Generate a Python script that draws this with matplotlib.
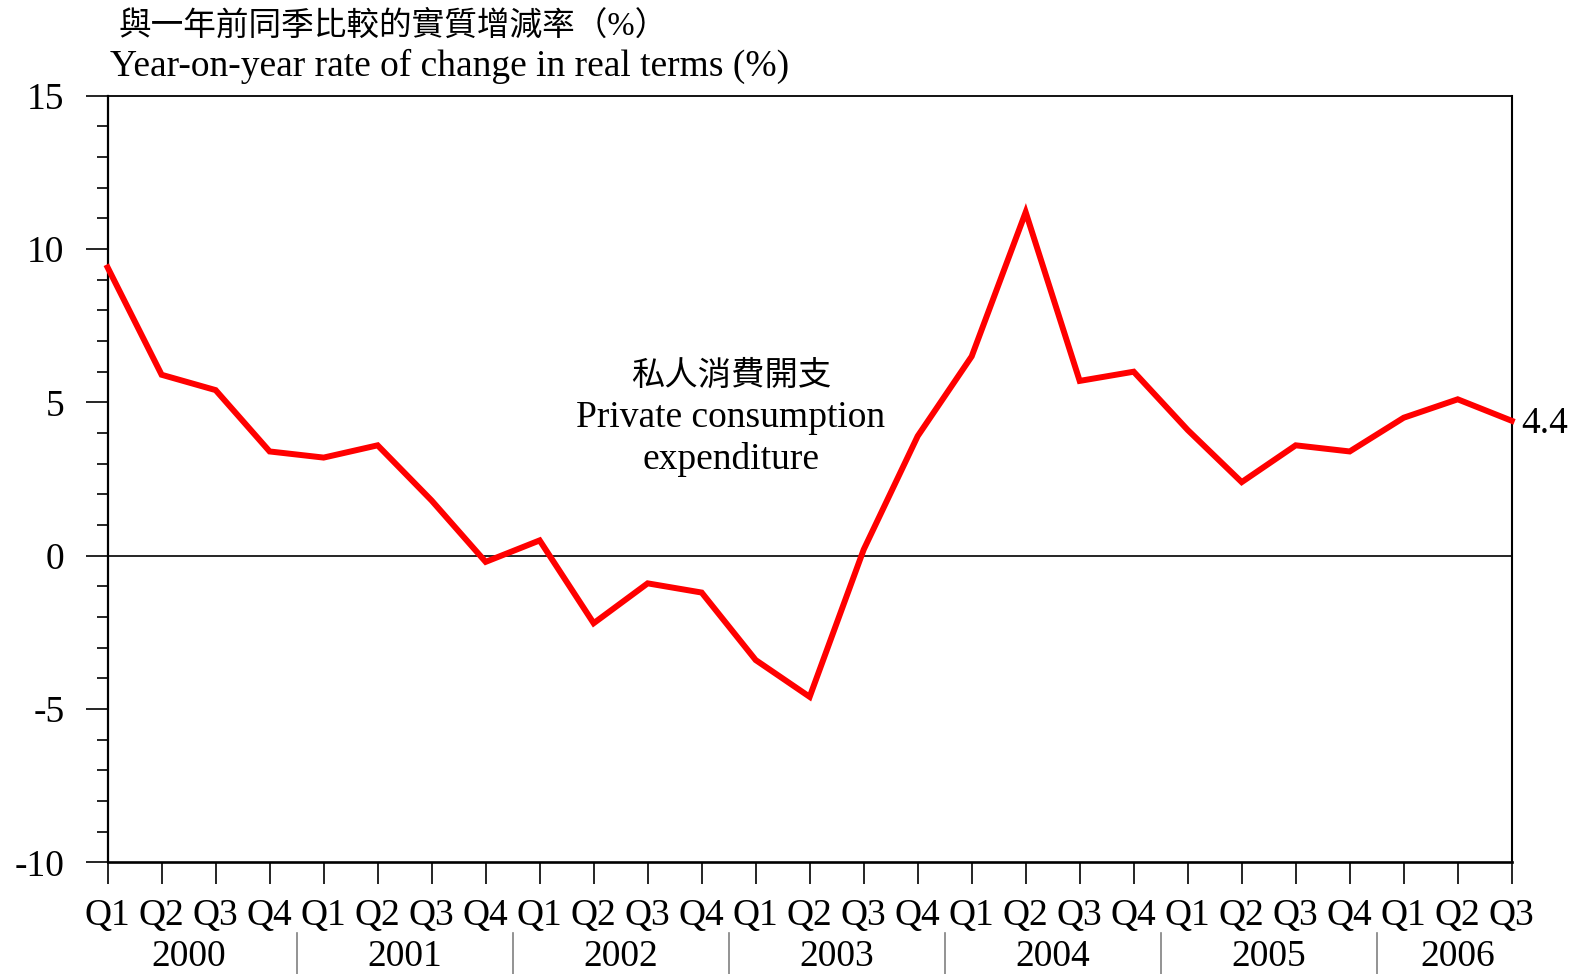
import matplotlib
matplotlib.use('Agg')
import matplotlib.pyplot as plt
from matplotlib.ticker import MultipleLocator

plt.rcParams['font.family'] = ['Liberation Serif', 'Noto Sans CJK TC']

# 私人消費開支 按年實質增減率 (%)
quarters = ['Q1', 'Q2', 'Q3', 'Q4'] * 6 + ['Q1', 'Q2', 'Q3']
years = ['2000', '2001', '2002', '2003', '2004', '2005', '2006']
growth = [9.4, 5.9, 5.4, 3.4,
          3.2, 3.6, 1.8, -0.2,
          0.5, -2.2, -0.9, -1.2,
          -3.4, -4.6, 0.2, 3.9,
          6.5, 11.2, 5.7, 6.0,
          4.1, 2.4, 3.6, 3.4,
          4.5, 5.1, 4.4]

x = list(range(len(growth)))

fig = plt.figure(figsize=(15.78, 9.74), dpi=100)
ax = fig.add_axes([0.0682, 0.1145, 0.8898, 0.7873])

ax.plot(x, growth, color='#ff0000', linewidth=4.3, solid_joinstyle='miter',
        clip_on=False, zorder=3)
ax.axhline(0, color='black', linewidth=1.2, zorder=2)

ax.set_xlim(0, len(growth) - 1)
ax.set_ylim(-10, 15)

# y 軸
ax.yaxis.set_minor_locator(MultipleLocator(1))
ax.set_yticks([-10, -5, 0, 5, 10, 15])
ax.set_yticklabels(['-10', '-5', '0', '5', '10', '15'])
ax.tick_params(axis='y', which='major', direction='out', length=16, width=1.2,
               pad=15, labelsize=27)
ax.tick_params(axis='y', which='minor', direction='out', length=8, width=1.2)

# x 軸
ax.set_xticks(x)
ax.set_xticklabels(quarters)
ax.tick_params(axis='x', which='major', direction='out', length=16, width=1.2,
               pad=10, labelsize=27)

for side, lw in [('left', 1.6), ('bottom', 1.9), ('top', 1.3), ('right', 1.5)]:
    ax.spines[side].set_linewidth(lw)

# 年份及分隔線
trans = ax.get_xaxis_transform()
start = 0
for yr in years:
    n = 3 if yr == '2006' else 4
    centre = start + (n - 1) / 2
    ax.text(centre, -0.123, yr, transform=trans, ha='center', va='center',
            fontsize=27)
    if yr != '2006':
        sep = start + n - 0.5
        ax.plot([sep, sep], [-0.092, -0.15], transform=trans, color='#808080',
                linewidth=1.2, clip_on=False)
    start += n

# 標註
ax.text(11.54, 5.85, '私人消費開支', ha='center', va='center', fontsize=24)
ax.text(11.54, 4.5, 'Private consumption', ha='center', va='center', fontsize=27)
ax.text(11.54, 3.15, 'expenditure', ha='center', va='center', fontsize=27)

ax.annotate(f'{growth[-1]:.1f}', xy=(x[-1], growth[-1]), xytext=(7, -2),
            textcoords='offset points', ha='left', va='center', fontsize=27,
            annotation_clip=False)

fig.text(0.0748, 0.973, '與一年前同季比較的實質增減率（%）', ha='left', va='center',
         fontsize=23.5)
fig.text(0.0697, 0.932, 'Year-on-year rate of change in real terms (%)',
         ha='left', va='center', fontsize=27)

fig.savefig('out.png', dpi=100)
